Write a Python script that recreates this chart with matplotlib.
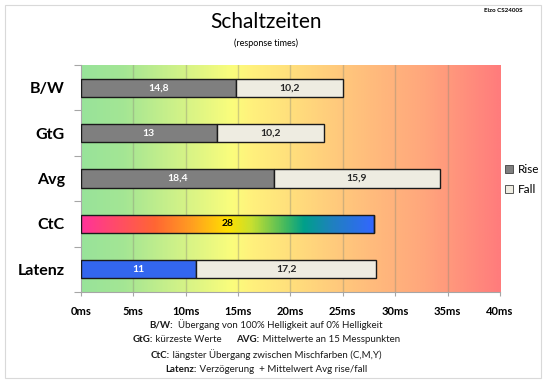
import numpy as np
import matplotlib
matplotlib.use('Agg')
from matplotlib import pyplot as plt
from matplotlib.colors import LinearSegmentedColormap
from matplotlib.patches import Patch, Rectangle

plt.rcParams['font.family'] = ['Lato', 'DejaVu Sans']

# response times in ms
categories = ['B/W', 'GtG', 'Avg', 'CtC', 'Latenz']
rise = [14.8, 13.0, 18.4, 28.0, 11.0]
fall = [10.2, 10.2, 15.9, 0.0, 17.2]
rise_labels = ['14,8', '13', '18,4', '28', '11']
fall_labels = ['10,2', '10,2', '15,9', '', '17,2']
xticks = [0, 5, 10, 15, 20, 25, 30, 35, 40]

# background bands, green (fast) -> red (slow)
bg_stops = [(0.0, '#98e39a'), (0.10, '#a4e694'), (0.36, '#fbfd7c'), (0.40, '#fff27c'),
            (0.62, '#ffc87c'), (0.82, '#ffa67c'), (1.0, '#ff7c7c')]
ctc_stops = [(0.0, '#ff3399'), (0.25, '#ff6633'), (0.38, '#ffa020'), (0.50, '#ffe000'),
             (0.58, '#c8e030'), (0.70, '#40b860'), (0.76, '#00a08a'), (0.86, '#2080c0'),
             (1.0, '#3366ff')]
bg_cmap = LinearSegmentedColormap.from_list('bg', bg_stops)
ctc_cmap = LinearSegmentedColormap.from_list('ctc', ctc_stops)

rise_col = '#7f7f7f'
fall_col = '#eeece1'
lat_col = '#3366ee'
edge = '#1a1a1a'

fig = plt.figure(figsize=(5.46, 3.83), dpi=100)
fig.patches.append(Rectangle((5 / 546, 5 / 383), 536 / 546, 373 / 383, transform=fig.transFigure,
                             fill=False, edgecolor='#d9d9d9', lw=0.8))
ax = fig.add_axes([80.7 / 546, 1 - 292 / 383, (500 - 80.7) / 546, (292 - 65) / 383])

n = len(categories)
y = np.arange(n)
ax.set_xlim(0, 40)
ax.set_ylim(n - 0.5, -0.5)

grad = np.linspace(0, 1, 400).reshape(1, -1)
ax.imshow(grad, cmap=bg_cmap, extent=[0, 40, n - 0.5, -0.5], aspect='auto', zorder=0)
for xv in xticks[1:-1]:
    ax.axvline(xv, color='#8c8c78', alpha=0.4, lw=1, zorder=1)

h = 0.4
rise_colors = [rise_col, rise_col, rise_col, 'none', lat_col]
bars_r = ax.barh(y, rise, height=h, color=rise_colors, edgecolor=edge, lw=1, zorder=3)
bars_f = ax.barh(y, fall, left=rise, height=h, color=fall_col, edgecolor=edge, lw=1, zorder=3)

# CtC bar gets a rainbow fill clipped to its outline
b = bars_r[3]
im = ax.imshow(grad, cmap=ctc_cmap, aspect='auto', zorder=2.5,
               extent=[b.get_x(), b.get_x() + b.get_width(), b.get_y() + b.get_height(), b.get_y()])
im.set_clip_path(b)
ax.set_xlim(0, 40)
ax.set_ylim(n - 0.5, -0.5)

for i in range(n):
    rc = 'black' if categories[i] == 'CtC' else 'white'
    ax.text(rise[i] / 2, y[i], rise_labels[i], ha='center', va='center', fontsize=7.5,
            fontweight='bold', color=rc, zorder=4)
    if fall[i] > 0:
        ax.text(rise[i] + fall[i] / 2, y[i], fall_labels[i], ha='center', va='center', fontsize=7.5,
                fontweight='bold', color='#262626', zorder=4)

ax.set_xticks(xticks)
ax.set_xticklabels([f'{v}ms' for v in xticks], fontsize=8, fontweight='bold')
ax.tick_params(axis='x', length=3, pad=7, color='#a6a6a6')
ax.set_yticks(np.arange(n + 1) - 0.5)
ax.set_yticklabels([])
ax.tick_params(axis='y', which='major', length=5, color='#a6a6a6')
ax.set_yticks(y, minor=True)
ax.set_yticklabels(categories, minor=True, fontsize=11.5, fontweight='bold')
ax.tick_params(axis='y', which='minor', length=0, pad=11.5)
for s in ['top', 'right']:
    ax.spines[s].set_visible(False)
for s in ['left', 'bottom']:
    ax.spines[s].set_color('#a6a6a6')

handles = [Patch(facecolor=rise_col, edgecolor='#404040', lw=0.6, label='Rise'),
           Patch(facecolor=fall_col, edgecolor='#404040', lw=0.6, label='Fall')]
fig.legend(handles=handles, loc='upper left', bbox_to_anchor=(505 / 546, 1 - 164 / 383),
           frameon=False, fontsize=8.5, handlelength=0.7, handleheight=0.7, handletextpad=0.4,
           labelspacing=0.8, borderpad=0, borderaxespad=0)

cx = 266 / 546
fig.text(cx, 1 - 22 / 383, 'Schaltzeiten', ha='center', va='center', fontsize=15)
fig.text(cx, 1 - 43 / 383, '(response times)', ha='center', va='center', fontsize=6.5)
fig.text(522 / 546, 1 - 11 / 383, 'Eizo CS2400S', ha='right', va='center', fontsize=4.5,
         fontweight='bold')

# footnote lines: (text, bold) pieces, centred as a whole
notes = [
    [('B/W:', True), ('  Übergang von 100% Helligkeit auf 0% Helligkeit', False)],
    [('GtG:', True), (' kürzeste Werte      ', False), ('AVG:', True),
     (' Mittelwerte an 15 Messpunkten', False)],
    [('CtC:', True), (' längster Übergang zwischen Mischfarben (C,M,Y)', False)],
    [('Latenz:', True), (' Verzögerung  + Mittelwert Avg rise/fall', False)],
]
note_y = [325, 340, 355, 370]
renderer = fig.canvas.get_renderer()
for parts, yy in zip(notes, note_y):
    texts = []
    x = 0
    for s, bold in parts:
        t = fig.text(x, 1 - yy / 383, s, ha='left', va='center', fontsize=7,
                     fontweight='bold' if bold else 'normal', color='#1a1a1a')
        w = t.get_window_extent(renderer).width / fig.bbox.width
        texts.append((t, x))
        x += w
    shift = cx - x / 2
    for t, x0 in texts:
        t.set_x(x0 + shift)

fig.savefig('out.png', dpi=100)
